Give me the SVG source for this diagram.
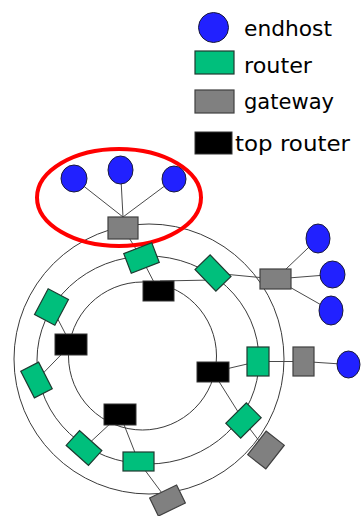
<svg xmlns="http://www.w3.org/2000/svg" width="361" height="516" viewBox="0 0 361 516">
<style>
.ring{fill:none;stroke:#3a3a3a;stroke-width:1}
.ln{stroke:#4a4a4a;stroke-width:1;fill:none}
.host{fill:#2121ff;stroke:#1a1a3a;stroke-width:1}
.rt{fill:#00bf7c;stroke:#1e3a30;stroke-width:1.2}
.gw{fill:#808080;stroke:#404040;stroke-width:1.2}
.top{fill:#000;stroke:#333;stroke-width:1}
.lbl{font-family:"DejaVu Sans","Liberation Sans",sans-serif;font-size:22px;fill:#000}
</style>
<rect width="361" height="516" fill="#fff"/>
<g id="rings">
<circle class="ring" cx="149" cy="359" r="135"/>
<ellipse class="ring" cx="148" cy="360" rx="111" ry="104"/>
<circle class="ring" cx="142.5" cy="356" r="74"/>
</g>
<g id="connectors">
<line class="ln" x1="74" y1="178.5" x2="123" y2="217"/>
<line class="ln" x1="120.5" y1="170" x2="123" y2="217"/>
<line class="ln" x1="174" y1="179" x2="123" y2="217"/>
<line class="ln" x1="123" y1="228" x2="141.5" y2="258"/>
<line class="ln" x1="141.5" y1="258" x2="158.5" y2="291"/>
<line class="ln" x1="160" y1="281" x2="213" y2="280"/>
<line class="ln" x1="213" y1="273" x2="275.5" y2="279"/>
<line class="ln" x1="275.5" y1="279" x2="318" y2="238.5"/>
<line class="ln" x1="275.5" y1="279" x2="332.5" y2="274.5"/>
<line class="ln" x1="275.5" y1="279" x2="331" y2="310.5"/>
<line class="ln" x1="51.5" y1="307" x2="71" y2="344.5"/>
<line class="ln" x1="71" y1="344.5" x2="36.5" y2="380"/>
<line class="ln" x1="120" y1="414.5" x2="84" y2="448"/>
<line class="ln" x1="120" y1="414.5" x2="138.5" y2="461.5"/>
<line class="ln" x1="138.5" y1="461.5" x2="167.5" y2="500.5"/>
<line class="ln" x1="213" y1="372" x2="258" y2="361.5"/>
<line class="ln" x1="258" y1="361.5" x2="303.5" y2="361.5"/>
<line class="ln" x1="303.5" y1="361.5" x2="348.5" y2="364.5"/>
<line class="ln" x1="213" y1="372" x2="243.5" y2="420.5"/>
<line class="ln" x1="243.5" y1="420.5" x2="266" y2="450"/>
</g>
<ellipse id="highlight" cx="119" cy="197.5" rx="82" ry="48.5" fill="none" stroke="#ff0000" stroke-width="4"/>
<g id="host1"><ellipse class="host" cx="74" cy="178.5" rx="13" ry="13.5"/></g>
<g id="host2"><ellipse class="host" cx="120.5" cy="170" rx="12.5" ry="14"/></g>
<g id="host3"><ellipse class="host" cx="174" cy="179" rx="12" ry="13"/></g>
<g id="host4"><ellipse class="host" cx="318" cy="238.5" rx="12" ry="14.5"/></g>
<g id="host5"><ellipse class="host" cx="332.5" cy="274.5" rx="12.5" ry="13.5"/></g>
<g id="host6"><ellipse class="host" cx="331" cy="310.5" rx="12" ry="14.5"/></g>
<g id="host7"><ellipse class="host" cx="348.5" cy="364.5" rx="11.5" ry="13.5"/></g>
<g id="gw-top"><rect class="gw" x="108" y="217" width="30" height="22"/></g>
<g id="gw-right-top"><rect class="gw" x="260" y="269" width="31" height="20"/></g>
<g id="gw-right"><rect class="gw" x="293" y="347" width="21" height="29"/></g>
<g id="gw-lower-right" transform="translate(266 450) rotate(-52)"><rect class="gw" x="-15" y="-11.5" width="30" height="23"/></g>
<g id="gw-bottom" transform="translate(167.5 500.5) rotate(-26)"><rect class="gw" x="-15" y="-10" width="30" height="20"/></g>
<g id="r-top" transform="translate(141.5 258) rotate(-21)"><rect class="rt" x="-15" y="-10.5" width="30" height="21"/></g>
<g id="r-right-upper" transform="translate(213 273) rotate(46)"><rect class="rt" x="-15" y="-10.5" width="30" height="21"/></g>
<g id="r-left-upper" transform="translate(51.5 307) rotate(-62)"><rect class="rt" x="-14.5" y="-11.5" width="29" height="23"/></g>
<g id="r-left-lower" transform="translate(36.5 380) rotate(63)"><rect class="rt" x="-15" y="-10" width="30" height="20"/></g>
<g id="r-bottom-left" transform="translate(84 448) rotate(42)"><rect class="rt" x="-15" y="-10" width="30" height="20"/></g>
<g id="r-bottom"><rect class="rt" x="123" y="452" width="31" height="19"/></g>
<g id="r-right-lower" transform="translate(243.5 420.5) rotate(-45)"><rect class="rt" x="-14.5" y="-10.5" width="29" height="21"/></g>
<g id="r-right"><rect class="rt" x="247" y="347" width="22" height="29"/></g>
<g id="t-top"><rect class="top" x="143" y="281" width="31" height="20"/></g>
<g id="t-left"><rect class="top" x="55" y="334" width="32" height="21"/></g>
<g id="t-bottom"><rect class="top" x="104" y="404" width="32" height="21"/></g>
<g id="t-right"><rect class="top" x="197" y="362" width="32" height="20"/></g>
<g id="legend">
<circle class="host" cx="213.5" cy="27.5" r="15"/>
<text class="lbl" x="244" y="36" textLength="88" lengthAdjust="spacingAndGlyphs">endhost</text>
<rect class="rt" x="195" y="51" width="39" height="23"/>
<text class="lbl" x="244" y="73" textLength="68" lengthAdjust="spacingAndGlyphs">router</text>
<rect class="gw" x="195" y="90" width="39" height="23"/>
<text class="lbl" x="244" y="109" textLength="90" lengthAdjust="spacingAndGlyphs">gateway</text>
<rect class="top" x="195" y="132" width="37" height="22"/>
<text class="lbl" x="235" y="151" textLength="115" lengthAdjust="spacingAndGlyphs">top router</text>
</g>
</svg>
